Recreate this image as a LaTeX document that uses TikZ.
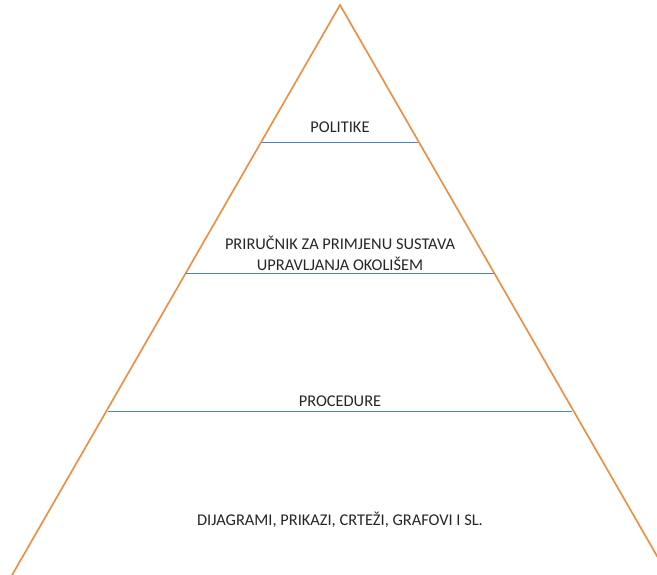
\documentclass[tikz,border=0pt]{standalone}
\usepackage{fontspec}
\setmainfont{Carlito}
\definecolor{pyrorange}{RGB}{240,140,60}
\definecolor{pyrblue}{RGB}{80,130,200}
\begin{document}
\begin{tikzpicture}[x=1pt,y=-1pt,
  edge/.style={pyrorange,line width=1.6pt},
  divider/.style={pyrblue,line width=0.9pt},
  lbl/.style={font=\fontsize{16.4}{21}\selectfont,align=center,inner sep=0pt,text=black!85}]
\useasboundingbox (0,0) rectangle (657,575);
\clip (0,0) rectangle (657,575);
\fill[white] (0,0) rectangle (657,575);
\coordinate (apex) at (340,5);
\coordinate (bl) at (0,596);
\coordinate (br) at (680,596);
\draw[edge] (bl) -- (apex) -- (br);
\coordinate (l1) at (262,142); \coordinate (r1) at (418,142);
\coordinate (l2) at (186,273); \coordinate (r2) at (494,273);
\coordinate (l3) at (108,411); \coordinate (r3) at (572,411);
\draw[divider] (l1) -- (r1);
\draw[divider] (l2) -- (r2);
\draw[divider] (l3) -- (r3);
\node[lbl] (politike) at (340,127) {POLITIKE};
\node[lbl] (prirucnik) at (340,253) {PRIRUČNIK ZA PRIMJENU SUSTAVA\\UPRAVLJANJA OKOLIŠEM};
\node[lbl] (procedure) at (340,401) {PROCEDURE};
\node[lbl] (dijagrami) at (340,520) {DIJAGRAMI, PRIKAZI, CRTEŽI, GRAFOVI I SL.};
\end{tikzpicture}
\end{document}
